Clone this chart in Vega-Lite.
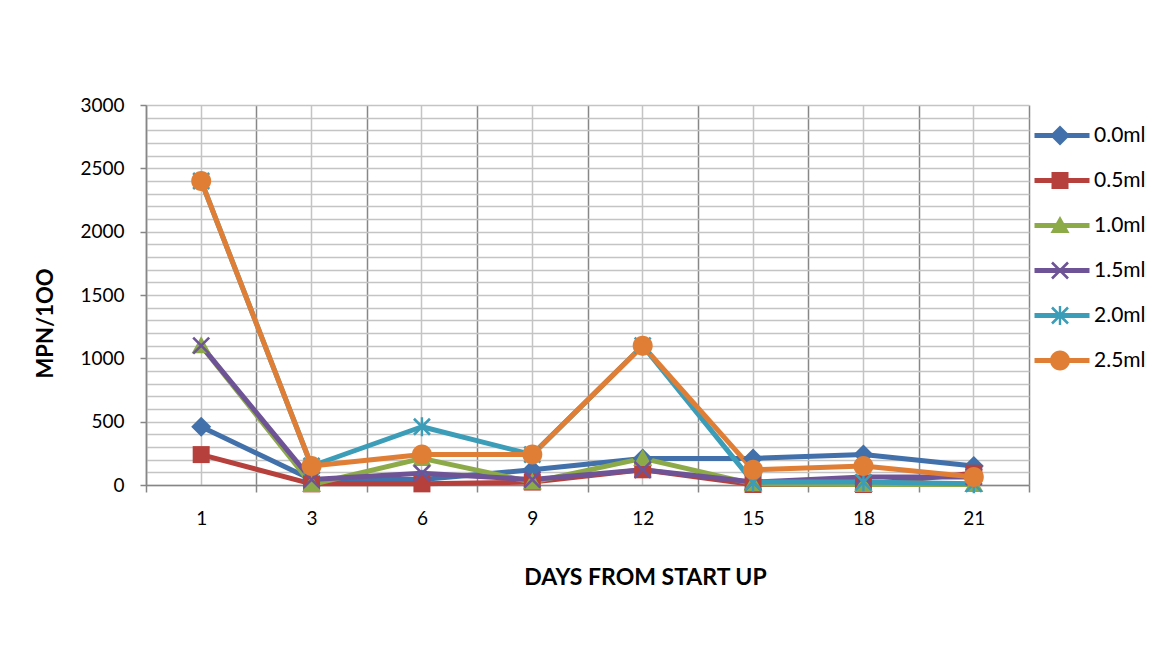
{
  "$schema": "https://vega.github.io/schema/vega-lite/v6.json",
  "width": 883,
  "height": 380,
  "autosize": "none",
  "padding": {"left": 146, "top": 105, "right": 133, "bottom": 185},
  "background": "white",
  "config": {"font": "Lato", "view": {"stroke": null}},
  "data": {
    "values": [
      {"day": 1, "series": "0.0ml", "mpn": 460},
      {"day": 3, "series": "0.0ml", "mpn": 43},
      {"day": 6, "series": "0.0ml", "mpn": 43},
      {"day": 9, "series": "0.0ml", "mpn": 120},
      {"day": 12, "series": "0.0ml", "mpn": 210},
      {"day": 15, "series": "0.0ml", "mpn": 210},
      {"day": 18, "series": "0.0ml", "mpn": 240},
      {"day": 21, "series": "0.0ml", "mpn": 150},
      {"day": 1, "series": "0.5ml", "mpn": 240},
      {"day": 3, "series": "0.5ml", "mpn": 9},
      {"day": 6, "series": "0.5ml", "mpn": 9},
      {"day": 9, "series": "0.5ml", "mpn": 23},
      {"day": 12, "series": "0.5ml", "mpn": 120},
      {"day": 15, "series": "0.5ml", "mpn": 4},
      {"day": 18, "series": "0.5ml", "mpn": 4},
      {"day": 21, "series": "0.5ml", "mpn": 93},
      {"day": 1, "series": "1.0ml", "mpn": 1100},
      {"day": 3, "series": "1.0ml", "mpn": 4},
      {"day": 6, "series": "1.0ml", "mpn": 210},
      {"day": 9, "series": "1.0ml", "mpn": 23},
      {"day": 12, "series": "1.0ml", "mpn": 210},
      {"day": 15, "series": "1.0ml", "mpn": 9},
      {"day": 18, "series": "1.0ml", "mpn": 4},
      {"day": 21, "series": "1.0ml", "mpn": 4},
      {"day": 1, "series": "1.5ml", "mpn": 1100},
      {"day": 3, "series": "1.5ml", "mpn": 43},
      {"day": 6, "series": "1.5ml", "mpn": 93},
      {"day": 9, "series": "1.5ml", "mpn": 43},
      {"day": 12, "series": "1.5ml", "mpn": 120},
      {"day": 15, "series": "1.5ml", "mpn": 23},
      {"day": 18, "series": "1.5ml", "mpn": 64},
      {"day": 21, "series": "1.5ml", "mpn": 64},
      {"day": 1, "series": "2.0ml", "mpn": 2400},
      {"day": 3, "series": "2.0ml", "mpn": 150},
      {"day": 6, "series": "2.0ml", "mpn": 460},
      {"day": 9, "series": "2.0ml", "mpn": 240},
      {"day": 12, "series": "2.0ml", "mpn": 1100},
      {"day": 15, "series": "2.0ml", "mpn": 23},
      {"day": 18, "series": "2.0ml", "mpn": 23},
      {"day": 21, "series": "2.0ml", "mpn": 9},
      {"day": 1, "series": "2.5ml", "mpn": 2400},
      {"day": 3, "series": "2.5ml", "mpn": 150},
      {"day": 6, "series": "2.5ml", "mpn": 240},
      {"day": 9, "series": "2.5ml", "mpn": 240},
      {"day": 12, "series": "2.5ml", "mpn": 1100},
      {"day": 15, "series": "2.5ml", "mpn": 120},
      {"day": 18, "series": "2.5ml", "mpn": 150},
      {"day": 21, "series": "2.5ml", "mpn": 64}
    ]
  },
  "encoding": {
    "y": {
      "field": "mpn",
      "type": "quantitative",
      "scale": {"domain": [0, 3000], "nice": false},
      "axis": {
        "title": "MPN/1OO",
        "values": [0, 100, 200, 300, 400, 500, 600, 700, 800, 900, 1000, 1100, 1200, 1300, 1400, 1500, 1600, 1700, 1800, 1900, 2000, 2100, 2200, 2300, 2400, 2500, 2600, 2700, 2800, 2900, 3000],
        "format": "d",
        "labelExpr": "datum.value % 500 === 0 ? datum.label : ''",
        "labelFontSize": 19,
        "labelColor": "#000000",
        "labelPadding": 16,
        "tickSize": 6,
        "tickColor": "#868686",
        "tickWidth": 1.5,
        "tickOpacity": {"condition": {"test": "datum.value % 500 === 0", "value": 1}, "value": 0},
        "domainColor": "#868686",
        "domainWidth": 1.5,
        "grid": true,
        "gridColor": "#C4C4C4",
        "gridWidth": 1.5,
        "titleFontSize": 22,
        "titleFontWeight": "bold",
        "titleColor": "#000000",
        "titleAngle": 270,
        "titleX": -101,
        "titleY": 218,
        "titleAlign": "center",
        "titleBaseline": "middle"
      }
    }
  },
  "layer": [
    {
      "mark": {"type": "line", "strokeWidth": 5, "strokeJoin": "round", "strokeCap": "round"},
      "encoding": {
        "x": {
          "field": "day",
          "type": "ordinal",
          "scale": {"type": "band", "paddingInner": 0, "paddingOuter": 0},
          "axis": {
            "orient": "bottom",
            "title": "DAYS FROM START UP",
            "tickBand": "extent",
            "labelAngle": 0,
            "labelFontSize": 19,
            "labelColor": "#000000",
            "labelPadding": 17,
            "tickSize": 7,
            "tickColor": "#868686",
            "tickWidth": 1.5,
            "domainColor": "#868686",
            "domainWidth": 1.5,
            "grid": true,
            "gridColor": "#878787",
            "gridWidth": 1.5,
            "titleFontSize": 23,
            "titleFontWeight": "bold",
            "titleColor": "#000000",
            "titleX": 499,
            "titleY": 92,
            "titleAlign": "center",
            "titleBaseline": "middle"
          }
        },
        "color": {
          "field": "series",
          "type": "nominal",
          "scale": {
            "domain": ["0.0ml", "0.5ml", "1.0ml", "1.5ml", "2.0ml", "2.5ml"],
            "range": ["#4170AA", "#B6403C", "#8DAA48", "#6E5497", "#3C9DB8", "#E07E36"]
          },
          "legend": {
            "title": null,
            "orient": "none",
            "legendX": 886,
            "legendY": 8,
            "padding": 0,
            "symbolType": "stroke",
            "symbolSize": 3025,
            "symbolStrokeWidth": 5,
            "clipHeight": 45,
            "rowPadding": 0,
            "labelFontSize": 21,
            "labelColor": "#000000",
            "labelOffset": 2
          }
        }
      }
    },
    {
      "mark": {"type": "point", "filled": true, "size": 400, "opacity": 1, "strokeWidth": 0},
      "encoding": {
        "x": {
          "field": "day",
          "type": "ordinal",
          "axis": {
            "orient": "top",
            "title": null,
            "labels": false,
            "ticks": false,
            "domain": false,
            "grid": true,
            "gridColor": "#C4C4C4",
            "gridWidth": 1.5
          }
        },
        "fill": {
          "field": "series",
          "type": "nominal",
          "scale": {"range": ["#4170AA", "#B6403C", "#8DAA48", "#6E5497", "#3C9DB8", "#E07E36"]},
          "legend": {
            "title": null,
            "orient": "none",
            "legendX": 904,
            "legendY": 8,
            "padding": 0,
            "clipHeight": 45,
            "rowPadding": 0,
            "symbolSize": 400,
            "symbolStrokeWidth": 0,
            "labelExpr": "''",
            "symbolOpacity": 1
          }
        },
        "shape": {
          "field": "series",
          "type": "nominal",
          "scale": {
            "range": [
              "M0,-1L1,0L0,1L-1,0Z",
              "M-0.85,-0.85H0.85V0.85H-0.85Z",
              "M0,-0.95L0.95,0.75L-0.95,0.75Z",
              "M-0.708,-0.892L0.892,0.708L0.708,0.892L-0.892,-0.708Z M-0.892,0.708L0.708,-0.892L0.892,-0.708L-0.708,0.892Z",
              "M-0.708,-0.892L0.892,0.708L0.708,0.892L-0.892,-0.708Z M-0.892,0.708L0.708,-0.892L0.892,-0.708L-0.708,0.892Z M-0.12,-0.95L0.12,-0.95L0.12,0.95L-0.12,0.95Z",
              "M-1,0A1,1,0,1,1,1,0A1,1,0,1,1,-1,0Z"
            ]
          },
          "legend": {
            "title": null,
            "orient": "none",
            "legendX": 904,
            "legendY": 8,
            "padding": 0,
            "clipHeight": 45,
            "rowPadding": 0,
            "symbolSize": 400,
            "symbolStrokeWidth": 0,
            "labelExpr": "''",
            "symbolOpacity": 1
          }
        }
      }
    }
  ],
  "resolve": {"axis": {"x": "independent"}}
}
